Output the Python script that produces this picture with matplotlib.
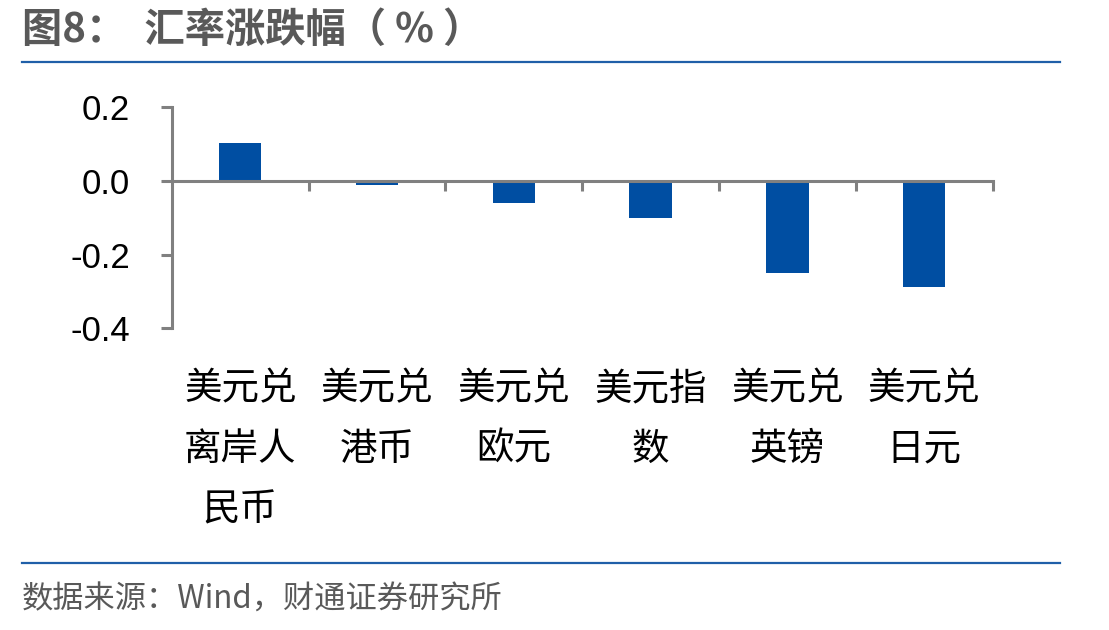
import matplotlib
matplotlib.use("Agg")
from matplotlib import pyplot as plt
from matplotlib.lines import Line2D
import numpy as np

plt.rcParams['font.family'] = ['Noto Sans CJK SC', 'DejaVu Sans']

# data
categories = ["美元兑\n离岸人\n民币", "美元兑\n港币", "美元兑\n欧元", "美元指\n数", "美元兑\n英镑", "美元兑\n日元"]
values = [0.103, -0.012, -0.06, -0.10, -0.25, -0.287]
yticks = [0.2, 0.0, -0.2, -0.4]
ytick_labels = ["0.2", "0.0", "-0.2", "-0.4"]

title = "图8：  汇率涨跌幅（ % ）"
source = "数据来源：Wind，财通证券研究所"

grey = "#808080"
blue = "#004EA2"
line_blue = "#1F5FA8"

fig = plt.figure(figsize=(11.09, 6.3), dpi=100)
ax = fig.add_axes([0.155, 0.479, 0.740, 0.351])

x = np.arange(len(categories))
ax.bar(x, values, width=0.31, color=blue, zorder=2)

ax.set_xlim(-0.5, len(categories) - 0.5)
ax.set_ylim(-0.4, 0.2)

for s in ["top", "right"]:
    ax.spines[s].set_visible(False)
ax.spines["left"].set_color(grey)
ax.spines["left"].set_linewidth(2.2)
ax.spines["bottom"].set_position(("data", 0))
ax.spines["bottom"].set_color(grey)
ax.spines["bottom"].set_linewidth(2.2)
ax.spines["bottom"].set_zorder(3)

ax.set_yticks(yticks)
ax.set_yticklabels(ytick_labels, fontfamily="Liberation Sans", fontsize=25)
ax.tick_params(axis="y", direction="out", length=8, width=2.2, color=grey, pad=22)

ax.set_xticks(x + 0.5)
ax.set_xticklabels([])
ax.tick_params(axis="x", direction="out", length=7, width=2.2, color=grey)

for i, lab in enumerate(categories):
    ax.text(i, -0.185, lab, transform=ax.get_xaxis_transform(), ha="center", va="top",
            fontsize=27, linespacing=1.72, color="#000000")

fig.text(0.020, 0.952, title, fontsize=29, fontweight="bold", color="#595959", va="center", ha="left")
fig.add_artist(Line2D([0.0198, 0.956], [0.9016, 0.9016], color=line_blue, linewidth=1.6))
fig.add_artist(Line2D([0.0198, 0.956], [0.1063, 0.1063], color=line_blue, linewidth=1.6))
fig.text(0.020, 0.0476, source, fontsize=22.5, color="#595959", va="center", ha="left")

fig.savefig("out.png", dpi=100)
